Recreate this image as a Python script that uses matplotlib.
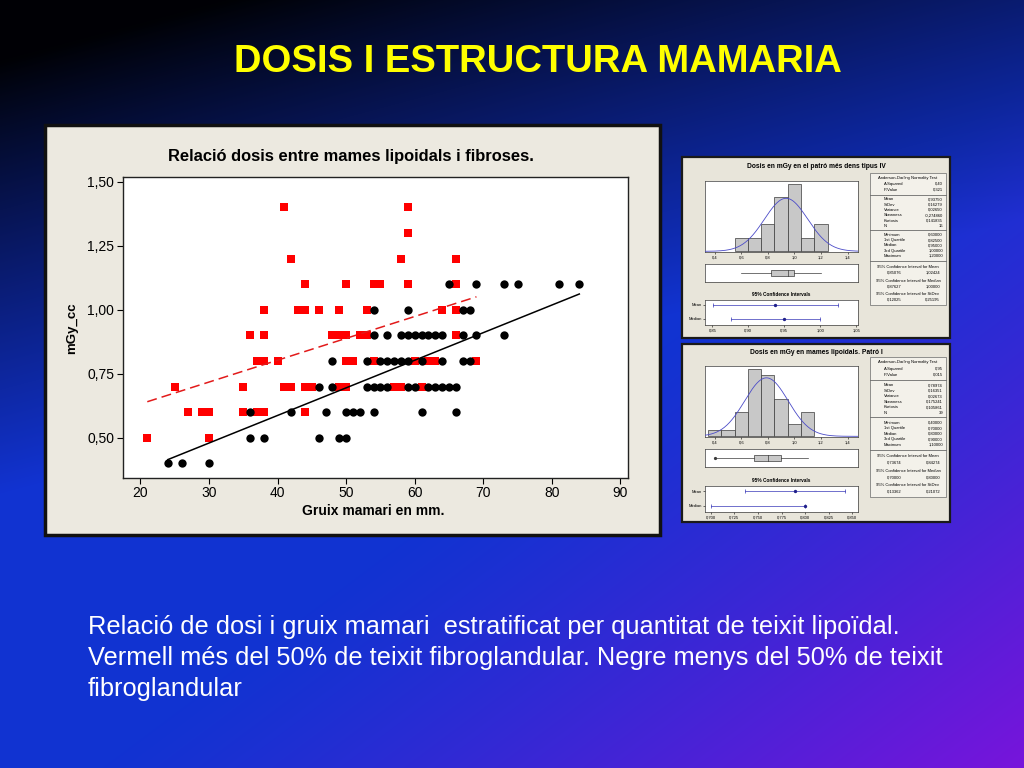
import numpy as np
import matplotlib
matplotlib.use("Agg")
import matplotlib.pyplot as plt
from matplotlib.patches import Rectangle

plt.rcParams['font.family'] = ['Liberation Sans', 'DejaVu Sans']

W, H = 1024, 768

# ---------------- data ----------------
slide_title = "DOSIS I ESTRUCTURA MAMARIA"
chart_title = "Relació dosis entre mames lipoidals i fibroses."
x_label = "Gruix mamari en mm."
y_label = "mGy_cc"
x_ticks = [20, 30, 40, 50, 60, 70, 80, 90]
y_ticks = [0.50, 0.75, 1.00, 1.25, 1.50]

# red squares: > 50% fibroglandular tissue
red_x = [41, 59,
         59,
         42, 58, 66,
         44, 50, 54, 55, 59, 66,
         38, 43, 44, 46, 49, 53, 64, 66,
         36, 38, 48, 49, 50, 52, 53, 66,
         37, 38, 40, 50, 51, 54, 60, 62, 63, 69,
         25, 35, 41, 42, 44, 45, 49, 50, 57, 58, 61,
         27, 29, 30, 35, 37, 38, 44,
         21, 30]
red_y = [1.4, 1.4,
         1.3,
         1.2, 1.2, 1.2,
         1.1, 1.1, 1.1, 1.1, 1.1, 1.1,
         1.0, 1.0, 1.0, 1.0, 1.0, 1.0, 1.0, 1.0,
         0.9, 0.9, 0.9, 0.9, 0.9, 0.9, 0.9, 0.9,
         0.8, 0.8, 0.8, 0.8, 0.8, 0.8, 0.8, 0.8, 0.8, 0.8,
         0.7, 0.7, 0.7, 0.7, 0.7, 0.7, 0.7, 0.7, 0.7, 0.7, 0.7,
         0.6, 0.6, 0.6, 0.6, 0.6, 0.6, 0.6,
         0.5, 0.5]

# black dots: < 50% fibroglandular tissue
black_x = [24, 26, 30,
           36, 38, 46, 49, 50,
           36, 42, 47, 50, 51, 52, 54, 61, 66,
           46, 48, 53, 54, 55, 56, 59, 60, 62, 63, 64, 65, 66,
           48, 53, 55, 56, 57, 58, 59, 61, 64, 67, 68,
           54, 56, 58, 59, 60, 61, 62, 63, 64, 67, 69, 73,
           54, 59, 67, 68,
           65, 69, 73, 75, 81, 84]
black_y = [0.4, 0.4, 0.4,
           0.5, 0.5, 0.5, 0.5, 0.5,
           0.6, 0.6, 0.6, 0.6, 0.6, 0.6, 0.6, 0.6, 0.6,
           0.7, 0.7, 0.7, 0.7, 0.7, 0.7, 0.7, 0.7, 0.7, 0.7, 0.7, 0.7, 0.7,
           0.8, 0.8, 0.8, 0.8, 0.8, 0.8, 0.8, 0.8, 0.8, 0.8, 0.8,
           0.9, 0.9, 0.9, 0.9, 0.9, 0.9, 0.9, 0.9, 0.9, 0.9, 0.9, 0.9,
           1.0, 1.0, 1.0, 1.0,
           1.1, 1.1, 1.1, 1.1, 1.1, 1.1]

# fitted lines: [slope, intercept]
red_fit = [0.00854, 0.4616]
black_fit = [0.01078, 0.1562]

caption_lines = [
    "Relació de dosi i gruix mamari  estratificat per quantitat de teixit lipoïdal.",
    "Vermell més del 50% de teixit fibroglandular. Negre menys del 50% de teixit",
    "fibroglandular",
]

# ---- summary panel A ----
sumA_title = "Dosis en mGy en el patró més dens tipus IV"
histA_bins = [0.6, 0.7, 0.8, 0.9, 1.0, 1.1, 1.2]
histA_counts = [1, 1, 2, 4, 5, 1, 2]
boxA = [0.60, 0.825, 0.95, 1.00, 1.20]
meanA, sdA = 0.9375, 0.16279
ciA_mean = [0.85076, 1.02424]
ciA_median = [0.87627, 1.00000]
ciA_ticks = [0.85, 0.90, 0.95, 1.00, 1.05]
ciA_labels = ["0,85", "0,90", "0,95", "1,00", "1,05"]
tableA = [
    [("A-Squared", "0,40"), ("P-Value", "0,321")],
    [("Mean", "0,93750"), ("StDev", "0,16279"), ("Variance", "0,02650"),
     ("Skewness", "-0,274860"), ("Kurtosis", "0,141835"), ("N", "16")],
    [("Minimum", "0,60000"), ("1st Quartile", "0,82500"), ("Median", "0,95000"),
     ("3rd Quartile", "1,00000"), ("Maximum", "1,20000")],
    [("0,85076", "1,02424"), ("0,87627", "1,00000"), ("0,12025", "0,25195")],
]

# ---- summary panel B ----
sumB_title = "Dosis en mGy en mames lipoidals. Patró I"
histB_bins = [0.4, 0.5, 0.6, 0.7, 0.8, 0.9, 1.0, 1.1]
histB_counts = [1, 1, 4, 11, 10, 6, 2, 4]
boxB = [0.40, 0.70, 0.80, 0.90, 1.10]
meanB, sdB = 0.78974, 0.16351
ciB_mean = [0.73674, 0.84274]
ciB_median = [0.70000, 0.80000]
ciB_ticks = [0.700, 0.725, 0.750, 0.775, 0.800, 0.825, 0.850]
ciB_labels = ["0,700", "0,725", "0,750", "0,775", "0,800", "0,825", "0,850"]
tableB = [
    [("A-Squared", "0,95"), ("P-Value", "0,015")],
    [("Mean", "0,78974"), ("StDev", "0,16351"), ("Variance", "0,02673"),
     ("Skewness", "0,175241"), ("Kurtosis", "0,105861"), ("N", "39")],
    [("Minimum", "0,40000"), ("1st Quartile", "0,70000"), ("Median", "0,80000"),
     ("3rd Quartile", "0,90000"), ("Maximum", "1,10000")],
    [("0,73674", "0,84274"), ("0,70000", "0,80000"), ("0,13362", "0,21072")],
]
hist_ticks = [0.4, 0.6, 0.8, 1.0, 1.2, 1.4]
hist_labels = ["0,4", "0,6", "0,8", "1,0", "1,2", "1,4"]
ci_headers = ["95% Confidence Interval for Mean",
              "95% Confidence Interval for Median",
              "95% Confidence Interval for StDev"]

# ---------------- figure ----------------
fig = plt.figure(figsize=(W / 100, H / 100), dpi=100)


def rect(x0, y0, x1, y1):
    return [x0 / W, 1 - y1 / H, (x1 - x0) / W, (y1 - y0) / H]


bg = fig.add_axes([0, 0, 1, 1])
bg.set_xlim(0, W)
bg.set_ylim(H, 0)
bg.axis('off')

u = np.linspace(0, 1, W)[None, :]
v = np.linspace(0, 1, H)[:, None]
b = np.clip((1.4 * v + 0.5 * u - 0.1) / 0.8, 0, 1) ** 0.9
p = np.clip((u + v - 1.1) / 0.9, 0, 1) ** 1.2
blue = np.array([0.07, 0.20, 0.82])
purple = np.array([0.47, 0.08, 0.86])
col = (1 - p)[..., None] * blue + p[..., None] * purple
img = col * b[..., None]
img[..., 2] = np.maximum(img[..., 2], 0.02)
bg.imshow(img, extent=(0, W, H, 0), aspect='auto', zorder=0)

bg.text(538, 62, slide_title, color='#FFFF00', fontsize=27.5, fontweight='bold',
        ha='center', va='center', zorder=2)

for i, line in enumerate(caption_lines):
    bg.text(88, 634 + 31 * i, line, color='white', fontsize=18.3, ha='left',
            va='baseline', zorder=2)

# main panel
bg.add_patch(Rectangle((45, 125), 615, 410, facecolor='#ECE9E0',
                       edgecolor='#111111', linewidth=2.5, zorder=1))
bg.text(351, 156, chart_title, fontsize=11.9, fontweight='bold',
        ha='center', va='center', zorder=2)
bg.text(373, 511, x_label, fontsize=10.0, fontweight='bold',
        ha='center', va='center', zorder=2)
bg.text(72, 328, y_label, fontsize=9.5, fontweight='bold', rotation=90,
        ha='center', va='center', zorder=2)

ax = fig.add_axes(rect(122.6, 176.7, 628, 478))
ax.set_facecolor('white')
ax.scatter(red_x, red_y, marker='s', s=32, color='#FF0000', linewidths=0, zorder=3)
ax.scatter(black_x, black_y, marker='o', s=36, color='black', linewidths=0, zorder=4)
xr = np.array([min(red_x), max(red_x)])
ax.plot(xr, red_fit[0] * xr + red_fit[1], color='#E21A1A', lw=1.1,
        dashes=(6.5, 3.3), zorder=5)
xb = np.array([min(black_x), max(black_x)])
ax.plot(xb, black_fit[0] * xb + black_fit[1], color='black', lw=1.1, zorder=5)
ax.set_xlim(17.4, 91.1)
ax.set_ylim(0.343, 1.52)
ax.set_xticks(x_ticks)
ax.set_xticklabels([str(t) for t in x_ticks])
ax.set_yticks(y_ticks)
ax.set_yticklabels([f"{t:.2f}".replace('.', ',') for t in y_ticks])
ax.tick_params(direction='out', length=4, width=0.8, labelsize=10, pad=2,
               colors='black')
for s in ax.spines.values():
    s.set_linewidth(1.0)
    s.set_color('#222222')


def summary_panel(top, bottom, title, title_y, hist_box, box_box, ci_title_y,
                  ci_box, table_box, bins, counts, five, mean, sd, ci_mean,
                  ci_med, ci_ticks, ci_labels, ci_xlim, table, outlier=False):
    bg.add_patch(Rectangle((682, top), 268, bottom - top, facecolor='#E8E5DA',
                           edgecolor='#1a1a1a', linewidth=1.6, zorder=1))
    bg.text(816, title_y, title, fontsize=4.8, fontweight='bold', ha='center',
            va='center', zorder=2)
    # histogram
    axh = fig.add_axes(rect(*hist_box))
    axh.bar(bins, counts, width=0.1, color='#C8C8C8', edgecolor='#3a3a3a',
            linewidth=0.5, zorder=2)
    xs = np.linspace(0.328, 1.478, 300)
    n = sum(counts)
    pdf = n * 0.1 / (sd * np.sqrt(2 * np.pi)) * np.exp(-0.5 * ((xs - mean) / sd) ** 2)
    axh.plot(xs, pdf, color='#4B4BC8', lw=0.6, zorder=3)
    axh.set_xlim(0.328, 1.478)
    axh.set_ylim(-max(counts) * 0.01, max(counts) * 1.04)
    axh.set_xticks(hist_ticks)
    axh.set_xticklabels(hist_labels)
    axh.set_yticks([])
    axh.tick_params(length=1.5, width=0.4, labelsize=3, pad=1)
    # box plot
    axb = fig.add_axes(rect(*box_box))
    mn, q1, md, q3, mx = five
    axb.add_patch(Rectangle((q1, 0.33), q3 - q1, 0.34, facecolor='#C8C8C8',
                            edgecolor='#3a3a3a', linewidth=0.5))
    axb.plot([md, md], [0.33, 0.67], color='#3a3a3a', lw=0.5)
    axb.plot([mn, q1], [0.5, 0.5], color='#3a3a3a', lw=0.5)
    axb.plot([q3, mx], [0.5, 0.5], color='#3a3a3a', lw=0.5)
    if outlier:
        axb.plot([mn], [0.5], marker='o', ms=1.3, color='#3a3a3a')
    axb.set_xlim(0.328, 1.478)
    axb.set_ylim(0, 1)
    axb.set_xticks([])
    axb.set_yticks([])
    # confidence intervals
    bg.text(781, ci_title_y, "95% Confidence Intervals", fontsize=3.4,
            fontweight='bold', ha='center', va='center', zorder=2)
    axc = fig.add_axes(rect(*ci_box))
    for (lo, hi), yv, ctr in [(ci_mean, 0.8, mean), (ci_med, 0.25, five[2])]:
        axc.plot([lo, hi], [yv, yv], color='#3737B8', lw=0.5)
        axc.plot([lo, hi], [yv, yv], ls='none', marker='|', ms=3,
                 mew=0.5, color='#3737B8')
        axc.plot([ctr], [yv], marker='o', ms=1.4, color='#20208A')
    axc.set_xlim(*ci_xlim)
    axc.set_ylim(0, 1)
    axc.set_xticks(ci_ticks)
    axc.set_xticklabels(ci_labels)
    axc.set_yticks([0.8, 0.25])
    axc.set_yticklabels(["Mean", "Median"])
    axc.tick_params(length=1.5, width=0.4, labelsize=3, pad=1)
    for a in (axh, axb, axc):
        for s in a.spines.values():
            s.set_linewidth(0.5)
            s.set_color('#3a3a3a')
    # table
    x0, y0, x1, y1 = table_box
    th = y1 - y0
    k = th / 132.0
    bg.add_patch(Rectangle((x0, y0), x1 - x0, th, facecolor='#F3F1EA',
                           edgecolor='#6a6a6a', linewidth=0.5, zorder=1.5))
    tk = dict(fontsize=3, zorder=2, va='center')
    xm = (x0 + x1) / 2
    bg.text(xm, y0 + 5 * k, "Anderson-Darling Normality Test", ha='center', **tk)
    rows_y = [[11, 17], [26.5, 31.8, 37, 42.3, 47.6, 52.9],
              [62, 67.2, 72.4, 77.6, 82.8]]
    for sec, ys in zip(table[:3], rows_y):
        for (lab, val), yy in zip(sec, ys):
            bg.text(x0 + 14, y0 + yy * k, lab, ha='left', **tk)
            bg.text(x1 - 3, y0 + yy * k, val, ha='right', **tk)
    for yy in [21.5, 57, 88]:
        bg.plot([x0, x1], [y0 + yy * k, y0 + yy * k], color='#6a6a6a', lw=0.6,
                zorder=2)
    ci_y = [(93.5, 99.5), (107.5, 113.5), (121, 127)]
    for hdr, (lo, hi), (ya, yb) in zip(ci_headers, table[3], ci_y):
        bg.text(xm, y0 + ya * k, hdr, ha='center', **tk)
        bg.text(x0 + 17, y0 + yb * k, lo, ha='left', **tk)
        bg.text(x1 - 6, y0 + yb * k, hi, ha='right', **tk)


summary_panel(157, 338, sumA_title, 166, (705, 181, 858, 252), (705, 264, 858, 282),
              295, (705, 300, 858, 325), (870, 173, 946, 305),
              histA_bins, histA_counts, boxA, meanA, sdA, ciA_mean, ciA_median,
              ciA_ticks, ciA_labels, (0.8397, 1.0525), tableA)
summary_panel(344, 522, sumB_title, 352, (705, 366, 858, 437), (705, 449, 858, 467),
              480, (705, 486, 858, 512), (870, 357, 946, 497),
              histB_bins, histB_counts, boxB, meanB, sdB, ciB_mean, ciB_median,
              ciB_ticks, ciB_labels, (0.694, 0.856), tableB, outlier=True)

fig.savefig("out.png", dpi=100)
